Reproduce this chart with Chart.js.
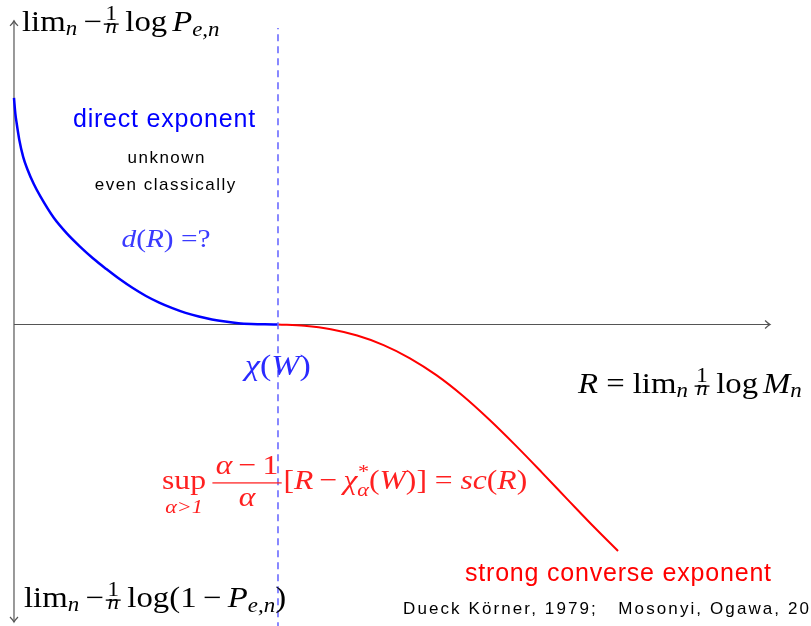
<!DOCTYPE html>
<html>
<head>
<meta charset="utf-8">
<script src="https://cdn.jsdelivr.net/npm/chart.js@4.4.0/dist/chart.umd.min.js"></script>
<style>
  html, body { margin: 0; padding: 0; background: #fff; }
  #wrap { position: relative; width: 811px; height: 626px; }
</style>
</head>
<body>
<div id="wrap"><canvas id="exponentChart"></canvas></div>
<script>
/* exponents vs rate R, R measured in units of chi(W) */

const directR   = [0, 0.005, 0.01, 0.02, 0.035, 0.05, 0.075, 0.1, 0.15, 0.2, 0.25, 0.3, 0.35, 0.4, 0.45,
                   0.5, 0.55, 0.6, 0.65, 0.7, 0.75, 0.8, 0.85, 0.9, 0.95, 1.0];
const directExp = [0.858, 0.80, 0.763, 0.70, 0.634, 0.59, 0.532, 0.485, 0.405, 0.345, 0.295, 0.250, 0.210, 0.172, 0.138,
                   0.108, 0.083, 0.062, 0.044, 0.030, 0.019, 0.011, 0.005, 0.002, 0.0005, 0];

const converseR   = [1.0, 1.1, 1.2, 1.3, 1.4, 1.5, 1.6, 1.7, 1.8, 1.9, 2.0, 2.1, 2.2, 2.288];
const converseExp = [0, -0.005, -0.018, -0.042, -0.078, -0.128, -0.192, -0.270, -0.360, -0.458, -0.561, -0.666, -0.770, -0.858];

const chiW = 1.0;
const rAxis = [0, 2.864];          // horizontal axis extent
const expAxis = [-1.127, 1.15];    // vertical axis extent
const chiLine = [-1.2, 1.123];     // dashed marker at chi(W)

const SERIF = '"Liberation Serif", serif';
const SANS = '"Liberation Sans", sans-serif';
const AXIS = '#555';
const SX = 1.13;                   // widen the serif glyphs a little

const pts = (xs, ys) => xs.map((x, i) => ({ x, y: ys[i] }));

/* --- tiny math typesetter: runs of text, sub/superscripts, fractions --- */
function fontOf(px, it) { return (it ? 'italic ' : '') + px + 'px ' + SERIF; }

function textW(ctx, t) { return ctx.measureText(t).width * SX; }

function put(ctx, t, x, y) {
  ctx.save();
  ctx.translate(x, y);
  ctx.scale(SX, 1);
  ctx.fillText(t, 0, 0);
  ctx.restore();
}

function runWidth(ctx, r, base) {
  if (r.sp != null) return r.sp * base;
  const s = base * (r.sz || 1);
  if (r.num) {
    return Math.max(mathWidth(ctx, r.num, s), mathWidth(ctx, r.den, s)) + (r.pad || 0.24) * base;
  }
  ctx.font = fontOf(s, r.it);
  let w = textW(ctx, r.t);
  let extra = 0;
  if (r.sup) { ctx.font = fontOf(s * 0.7, false); extra = Math.max(extra, textW(ctx, r.sup)); }
  if (r.sub) { ctx.font = fontOf(s * 0.7, true); extra = Math.max(extra, textW(ctx, r.sub)); }
  w += extra;
  if (r.under) { ctx.font = fontOf(s * 0.7, true); w = Math.max(w, textW(ctx, r.under)); }
  return w;
}

function mathWidth(ctx, runs, base) {
  return runs.reduce((w, r) => w + runWidth(ctx, r, base), 0);
}

function drawMath(ctx, runs, x, y, base, color, align) {
  let cx = align === 'center' ? x - mathWidth(ctx, runs, base) / 2 : x;
  ctx.fillStyle = color;
  ctx.textAlign = 'left';
  ctx.textBaseline = 'alphabetic';
  runs.forEach(r => {
    const w = runWidth(ctx, r, base);
    const s = base * (r.sz || 1);
    if (r.num) {
      const a = mathWidth(ctx, r.num, s), b = mathWidth(ctx, r.den, s);
      drawMath(ctx, r.num, cx + (w - a) / 2, y + r.ny * base, s, color);
      drawMath(ctx, r.den, cx + (w - b) / 2, y + r.dy * base, s, color);
      ctx.fillRect(cx + 0.06 * base, y - r.bar * base, w - 0.12 * base, Math.max(1, 0.045 * base));
    } else if (r.t != null) {
      ctx.font = fontOf(s, r.it);
      const mw = textW(ctx, r.t);
      if (r.under) {
        put(ctx, r.t, cx + (w - mw) / 2, y);
        ctx.font = fontOf(s * 0.7, true);
        const uw = textW(ctx, r.under);
        put(ctx, r.under, cx + (w - uw) / 2, y + 0.85 * base);
      } else {
        put(ctx, r.t, cx, y + (r.dy || 0) * base);
        if (r.sup) { ctx.font = fontOf(s * 0.7, false); put(ctx, r.sup, cx + mw + 0.02 * base, y - 0.38 * base); }
        if (r.sub) { ctx.font = fontOf(s * 0.7, true); put(ctx, r.sub, cx + mw, y + 0.25 * base); }
      }
    }
    cx += w;
  });
}

function sansText(ctx, t, x, y, size, color, spacing, align) {
  ctx.font = size + 'px ' + SANS;
  ctx.letterSpacing = spacing + 'px';
  ctx.fillStyle = color;
  ctx.textAlign = 'left';
  const w = ctx.measureText(t).width - spacing;
  ctx.fillText(t, align === 'center' ? x - w / 2 : x, y);
  ctx.letterSpacing = '0px';
}

const oneOverN = { num: [{ t: '1' }], den: [{ t: 'n', it: 1 }], sz: 0.7, ny: -0.38, dy: 0.08, bar: 0.26 };
const limN = [{ t: 'lim' }, { t: 'n', it: 1, sz: 0.7, dy: 0.14 }];

const topLabel = [...limN, { sp: 0.22 }, { t: '−' }, oneOverN, { sp: 0.17 }, { t: 'log' }, { sp: 0.17 },
  { t: 'P', it: 1 }, { t: 'e,n', it: 1, sz: 0.7, dy: 0.18 }];
const bottomLabel = [...limN, { sp: 0.22 }, { t: '−' }, oneOverN, { sp: 0.17 }, { t: 'log(1' }, { sp: 0.22 },
  { t: '−' }, { sp: 0.22 }, { t: 'P', it: 1 }, { t: 'e,n', it: 1, sz: 0.7, dy: 0.18 }, { t: ')' }];
const rateLabel = [{ t: 'R', it: 1 }, { sp: 0.28 }, { t: '=' }, { sp: 0.28 }, ...limN, { sp: 0.17 }, oneOverN,
  { sp: 0.17 }, { t: 'log' }, { sp: 0.17 }, { t: 'M', it: 1 }, { t: 'n', it: 1, sz: 0.7, dy: 0.14 }];
const chiLabel = [{ t: 'χ', it: 1 }, { t: '(' }, { t: 'W', it: 1 }, { t: ')' }];
const dLabel = [{ t: 'd', it: 1 }, { t: '(' }, { t: 'R', it: 1 }, { t: ')' }, { sp: 0.28 }, { t: '=?' }];
const scLabel = [{ t: 'sup', under: 'α>1' }, { sp: 0.17 },
  { num: [{ t: 'α', it: 1 }, { sp: 0.22 }, { t: '−' }, { sp: 0.22 }, { t: '1' }], den: [{ t: 'α', it: 1 }],
    ny: -0.55, dy: 0.6, bar: 0.24, pad: 0.36 },
  { t: '[' }, { t: 'R', it: 1 }, { sp: 0.22 }, { t: '−' }, { sp: 0.22 }, { t: 'χ', it: 1, sup: '*', sub: 'α' },
  { t: '(' }, { t: 'W', it: 1 }, { t: ')]' }, { sp: 0.28 }, { t: '=' }, { sp: 0.28 }, { t: 'sc', it: 1 },
  { t: '(' }, { t: 'R', it: 1 }, { t: ')' }];

const annotations = {
  id: 'annotations',
  afterDatasetsDraw(chart) {
    const { ctx, scales: { x, y } } = chart;
    ctx.save();

    // arrow tips on the axes
    ctx.strokeStyle = AXIS;
    ctx.lineWidth = 1.2;
    const x0 = x.getPixelForValue(0), y0 = y.getPixelForValue(0);
    const xe = x.getPixelForValue(rAxis[1]);
    const yt = y.getPixelForValue(expAxis[1]), yb = y.getPixelForValue(expAxis[0]);
    ctx.beginPath();
    ctx.moveTo(xe - 5, y0 - 4); ctx.quadraticCurveTo(xe - 2, y0 - 1, xe, y0); ctx.quadraticCurveTo(xe - 2, y0 + 1, xe - 5, y0 + 4);
    ctx.moveTo(x0 - 4, yt + 5); ctx.quadraticCurveTo(x0 - 1, yt + 2, x0, yt); ctx.quadraticCurveTo(x0 + 1, yt + 2, x0 + 4, yt + 5);
    ctx.moveTo(x0 - 4, yb - 5); ctx.quadraticCurveTo(x0 - 1, yb - 2, x0, yb); ctx.quadraticCurveTo(x0 + 1, yb - 2, x0 + 4, yb - 5);
    ctx.stroke();

    // axis labels
    drawMath(ctx, topLabel, 22, 31, 29, '#000');
    drawMath(ctx, bottomLabel, 24, 607, 29, '#000');
    drawMath(ctx, rateLabel, 578, 393, 29, '#000');
    drawMath(ctx, chiLabel, x.getPixelForValue(chiW), 375, 30, '#2a2aff', 'center');

    // direct exponent side
    sansText(ctx, 'direct exponent', 164, 127, 25, '#0000ff', 0.8, 'center');
    sansText(ctx, 'unknown', 166, 163, 17, '#000', 1.5, 'center');
    sansText(ctx, 'even classically', 165, 190, 17, '#000', 1.5, 'center');
    drawMath(ctx, dLabel, 166, 247, 26, '#3a3aff', 'center');

    // strong converse side
    drawMath(ctx, scLabel, 162, 489, 28, '#ff2020');
    sansText(ctx, 'strong converse exponent', 618, 581, 25, '#ff0000', 0.8, 'center');
    sansText(ctx, 'Dueck Körner, 1979;   Mosonyi, Ogawa, 20', 403, 614, 17, '#000', 2.1);

    ctx.restore();
  }
};

new Chart(document.getElementById('exponentChart'), {
  type: 'scatter',
  data: {
    datasets: [
      {
        label: 'direct exponent',
        data: pts(directR, directExp),
        showLine: true, borderColor: '#0000ff', borderWidth: 2.5,
        pointRadius: 0, cubicInterpolationMode: 'monotone', order: 1,
      },
      {
        label: 'strong converse exponent',
        data: pts(converseR, converseExp),
        showLine: true, borderColor: '#ff0000', borderWidth: 2,
        pointRadius: 0, cubicInterpolationMode: 'monotone', order: 1,
      },
      {
        label: 'chi(W)',
        data: pts([chiW, chiW], chiLine),
        showLine: true, borderColor: '#6b6bff', borderWidth: 1.6, borderDash: [7, 5],
        pointRadius: 0, order: 0,
      },
      {
        label: 'R axis',
        data: pts(rAxis, [0, 0]),
        showLine: true, borderColor: AXIS, borderWidth: 1.2, pointRadius: 0, order: 2,
      },
      {
        label: 'exponent axis',
        data: pts([0, 0], expAxis),
        showLine: true, borderColor: AXIS, borderWidth: 1.2, pointRadius: 0, order: 2,
      },
    ]
  },
  options: {
    responsive: true,
    maintainAspectRatio: false,
    animation: false,
    layout: { padding: 0 },
    plugins: { legend: { display: false }, tooltip: { enabled: false } },
    scales: {
      x: { type: 'linear', min: -0.053, max: 3.019, display: false },
      y: { type: 'linear', min: -1.142, max: 1.229, display: false },
    }
  },
  plugins: [annotations]
});
</script>
</body>
</html>
